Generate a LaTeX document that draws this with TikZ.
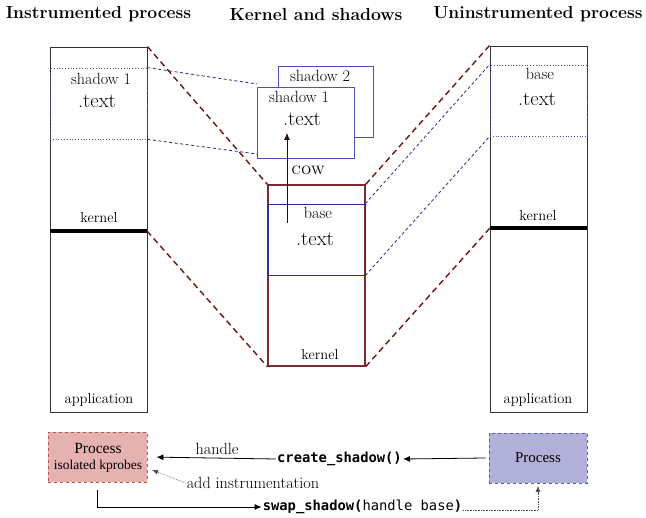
\documentclass[tikz,border=0pt]{standalone}
\usepackage{fontspec}
\newfontfamily\monofont{DejaVu Sans Mono}
\newfontfamily\timesfont{Liberation Serif}
\usetikzlibrary{arrows.meta}
\definecolor{dred}{HTML}{6B1515}
\definecolor{kred}{HTML}{7A2C2C}
\definecolor{dblue}{HTML}{2A2A8C}
\definecolor{sblue}{HTML}{5050B0}
\definecolor{pfill}{HTML}{E6B1B1}
\definecolor{pdraw}{HTML}{B05858}
\definecolor{qfill}{HTML}{B0B0D8}
\definecolor{qdraw}{HTML}{5858B0}
\tikzset{
  proc/.style={draw=black!80, line width=0.9pt, inner sep=0pt},
  shadowreg/.style={draw=sblue, dotted, line width=0.8pt, inner sep=0pt},
  shbox/.style={draw=sblue, line width=0.9pt, fill=white, inner sep=0pt, minimum width=97pt, minimum height=71pt},
  kline/.style={line width=4pt},
  maplink/.style={draw=dred, dashed, dash pattern=on 6pt off 4pt, line width=1.4pt},
  bluelink/.style={draw=dblue, dash pattern=on 3pt off 2.5pt, line width=0.8pt},
  title/.style={font=\fontsize{17.5}{20}\selectfont\bfseries},
  lbl/.style={font=\fontsize{16.2}{19}\selectfont, inner sep=1pt},
  big/.style={font=\fontsize{20.5}{24}\selectfont, inner sep=1pt},
  small/.style={font=\fontsize{14.5}{17}\selectfont, inner sep=1pt},
  code/.style={font=\fontsize{13.8}{16}\selectfont\monofont, inner sep=1pt},
  arr/.style={-{Latex[length=7pt,width=6pt]}, line width=0.8pt},
  dotarr/.style={-{Latex[length=6pt,width=5pt]}, densely dotted, line width=0.6pt, draw=black!70},
}
\begin{document}
\begin{tikzpicture}[x=1pt,y=-1pt]
\useasboundingbox (0,0) rectangle (646,518);
% titles
\node[title] (t1) at (98.5,14) {Instrumented process};
\node[title] (t2) at (316,14) {Kernel and shadows};
\node[title] (t3) at (538,14) {Uninstrumented process};

% left box
\node[proc, minimum width=97pt, minimum height=365pt] (L) at (98.5,229.5) {};
\node[shadowreg, minimum width=97pt, minimum height=71pt] (LS) at (98.5,103.5) {};
\node[lbl] (ls1) at (101,79) {shadow 1};
\node[big] (ls2) at (97,101) {.text};
\node[small] (lk) at (99,218) {kernel};
\coordinate (LK1) at (50,231);
\coordinate (LK2) at (147,231);
\draw[kline] (LK1) -- (LK2);
\node[small] (la) at (99,400) {application};

% right box
\node[proc, minimum width=97pt, minimum height=366pt] (R) at (538.5,229) {};
\node[shadowreg, minimum width=97pt, minimum height=71pt] (RS) at (538.5,100.5) {};
\node[lbl] (rs1) at (540,74) {base};
\node[big] (rs2) at (537,99) {.text};
\node[small] (rk) at (538,216) {kernel};
\coordinate (RK1) at (490,228);
\coordinate (RK2) at (587,228);
\draw[kline] (RK1) -- (RK2);
\node[small] (ra) at (538,400) {application};

% middle
\node[shbox, minimum width=95pt] (S2) at (325.5,101.5) {};
\node[lbl] (s2t) at (320,76) {shadow 2};
\node[shbox] (S1) at (305.5,122.5) {};
\node[lbl] (s1t) at (299,97) {shadow 1};
\node[big] (s1x) at (302,119) {.text};

\node[draw=kred, line width=1.3pt, minimum width=97pt, minimum height=181pt, inner sep=0pt] (K) at (316.5,275.5) {};
\node[draw=dblue, line width=0.9pt, minimum width=97pt, minimum height=71pt, inner sep=0pt] (B) at (316.5,239.5) {};
\node[lbl] (bt) at (318,213) {base};
\node[big] (bx) at (315,239) {.text};
\node[small] (kt) at (320,355) {kernel};

% cow
\coordinate (c1) at (287,223);
\coordinate (c2) at (287,133);
\draw[arr, draw=black!70!kred] (c1) -- (c2);
\node[lbl] (cow) at (308,170) {\textsc{cow}};

% mapping links
\draw[maplink] (L.north east) -- (K.north west);
\draw[maplink] (LK2) -- (K.south west);
\draw[maplink] (K.north east) -- (R.north west);
\draw[maplink] (K.south east) -- (RK1);
\coordinate (s1a) at (257,84);
\coordinate (s1b) at (257,154);
\draw[bluelink] (LS.north east) -- (s1a);
\draw[bluelink] (LS.south east) -- (s1b);
\draw[bluelink] (B.north east) -- (RS.north west);
\draw[bluelink] (B.south east) -- (RS.south west);

% bottom
\node[draw=pdraw, fill=pfill, dashed, line width=0.9pt, minimum width=99pt, minimum height=50pt, inner sep=0pt] (P1) at (97.5,457) {};
\node[font=\fontsize{15.5}{17}\selectfont\timesfont] (p1a) at (98,449) {Process};
\node[font=\fontsize{13.5}{15}\selectfont\timesfont] (p1b) at (98,466) {isolated kprobes};
\node[draw=qdraw, fill=qfill, dashed, line width=0.9pt, minimum width=98pt, minimum height=50pt, inner sep=0pt, font=\fontsize{15}{17}\selectfont\timesfont] (P2) at (538,458) {Process};

\node[code, font=\fontsize{13.8}{16}\selectfont\monofont\bfseries] (CS) at (339.5,459) {create\_shadow()};
\draw[arr] (P2.west) ++(-3pt,0) coordinate (p2w) -- (CS.east);
\draw[arr, shorten >=9pt] (CS.west) -- (P1.east);
\node[lbl] (hd) at (217,449) {handle};
\node[lbl] (ai) at (253,483) {add instrumentation};
\coordinate (aiT) at (152,470);
\draw[dotarr] (ai.west) -- (aiT);

\node[code] (SW) at (362.5,507) {\textbf{swap\_shadow(}handle base\textbf{)}};
\coordinate (sw0) at (97,490);
\draw[arr] (sw0) |- (SW.west);
\coordinate (sw1) at (538,510);
\coordinate (sw2) at (538,486);
\draw[dotarr] (SW.east |- sw1) -- (sw1) -- (sw2);
\end{tikzpicture}
\end{document}
